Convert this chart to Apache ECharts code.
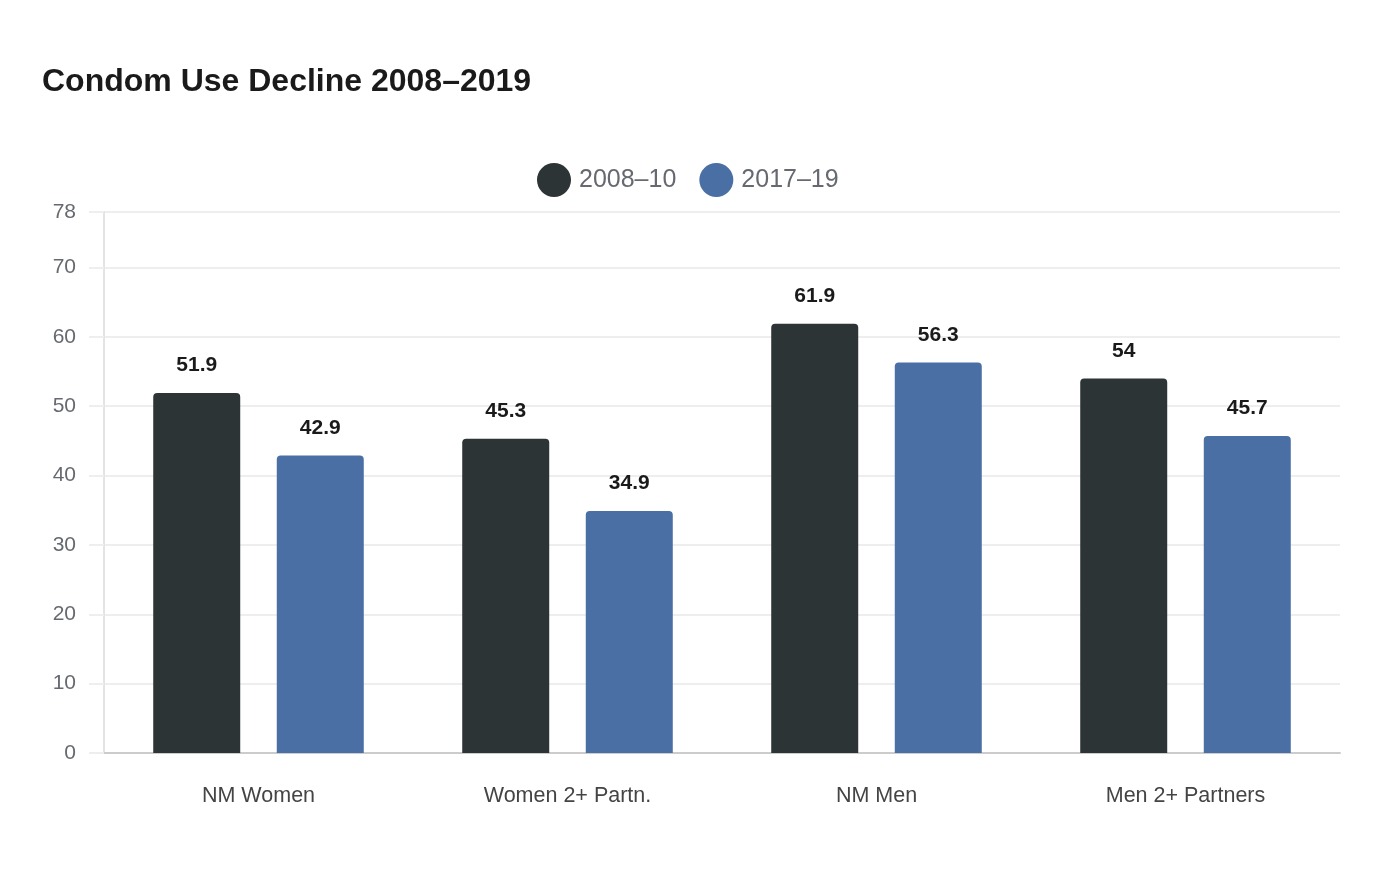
<!DOCTYPE html>
<html><head><meta charset="utf-8">
<script src="https://cdn.jsdelivr.net/npm/echarts@6/dist/echarts.min.js"></script>
<style>html,body{margin:0;padding:0;background:#fff}#c{width:1400px;height:880px}</style>
</head><body><div id="c"></div>
<script>
const categories = ['NM Women', 'Women 2+ Partn.', 'NM Men', 'Men 2+ Partners'];
const seriesNames = ['2008\u201310', '2017\u201319'];
const values2008 = [51.9, 45.3, 61.9, 54];
const values2017 = [42.9, 34.9, 56.3, 45.7];
const yTicks = [0, 10, 20, 30, 40, 50, 60, 70, 78];

const chart = echarts.init(document.getElementById('c'));
const font = '"Liberation Sans", Arial, sans-serif';
const label = {show: true, position: 'top', distance: 17, fontSize: 21, fontWeight: 'bold', color: '#1a1a1a', fontFamily: font};
chart.setOption({
  textStyle: {fontFamily: font},
  title: {text: 'Condom Use Decline 2008\u20132019', left: 37, top: 61,
    textStyle: {fontSize: 32, fontWeight: 'bold', color: '#1a1a1a', fontFamily: font}},
  legend: {top: 158, left: 532, itemWidth: 34, itemHeight: 34, itemGap: 23, icon: 'circle',
    textStyle: {fontSize: 25, color: '#666a70', fontFamily: font, padding: [0, 0, 0, 3]}},
  grid: {left: 104, right: 60, top: 212, bottom: 127},
  xAxis: {type: 'category', data: categories,
    axisLine: {lineStyle: {color: '#cccccc', width: 2}},
    axisTick: {show: false},
    axisLabel: {fontSize: 21.5, color: '#444', margin: 32, fontFamily: font}},
  yAxis: {type: 'value', min: 0, max: 78, interval: 10,
    splitLine: {show: true, lineStyle: {color: '#eeeeee', width: 2}},
    axisLine: {show: true, lineStyle: {color: '#e4e4e4', width: 2}},
    axisTick: {show: true, length: 15, lineStyle: {color: '#eeeeee', width: 2}, customValues: yTicks},
    axisLabel: {fontSize: 21, color: '#666a70', margin: 28, fontFamily: font, customValues: yTicks}},
  series: [
    {name: seriesNames[0], type: 'bar', data: values2008, barWidth: 87, barGap: '42%',
      itemStyle: {color: '#2d3436', borderRadius: [4, 4, 0, 0]}, label},
    {name: seriesNames[1], type: 'bar', data: values2017, barWidth: 87,
      itemStyle: {color: '#4a6fa5', borderRadius: [4, 4, 0, 0]}, label}
  ]
});
</script></body></html>
